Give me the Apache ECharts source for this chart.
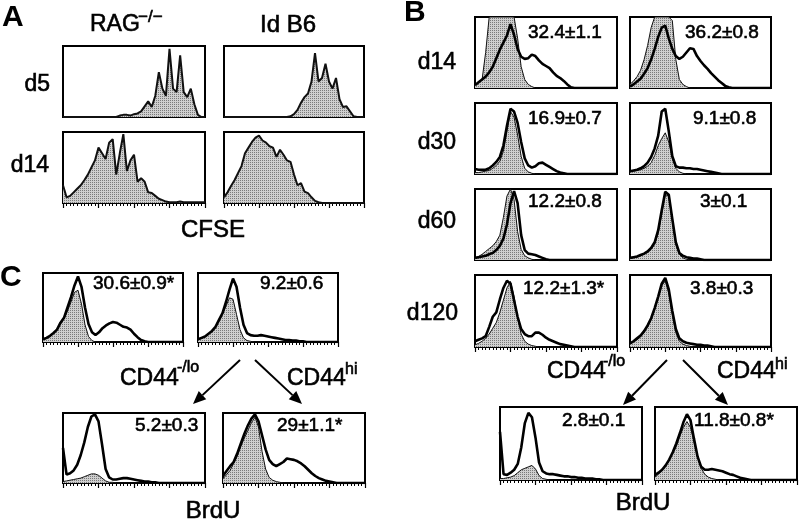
<!DOCTYPE html>
<html>
<head>
<meta charset="utf-8">
<script src="https://cdn.jsdelivr.net/npm/echarts@6/dist/echarts.min.js"></script>
<style>
  html, body { margin: 0; padding: 0; background: #fff; }
  #chart { width: 800px; height: 522px; }
</style>
</head>
<body>
<div id="chart"></div>
<script>
// fluorescence channel (0..40 = 4 log decades)
const channels = [0,1,2,3,4,5,6,7,8,9,10,11,12,13,14,15,16,17,18,19,20,21,22,23,24,25,26,27,28,29,30,31,32,33,34,35,36,37,38,39,40];

// panel A: CFSE histograms
const ragD5 = [0,0,0,0,0,0,0,0,0,0,0,0,0,0,0,0,2,3,3,2,4,5,8,15,22,14,30,63,40,30,96,40,35,87,35,28,40,18,3,0,0];
const ragD14 = [25,8,10,15,20,25,32,40,50,60,78,70,62,85,90,40,70,97,45,60,68,30,35,30,15,14,10,6,4,2,1,1,1,2,1,1,1,1,1,1,1];
const idD5 = [0,0,0,0,0,0,0,0,0,0,0,0,0,0,0,0,0,0,0,1,4,10,20,28,33,50,90,50,55,75,50,40,55,25,14,15,8,1,0,0,0];
const idD14 = [8,15,24,32,42,52,70,78,86,92,95,88,85,80,78,65,75,68,60,58,40,25,28,16,14,8,3,1,0,0,0,0,0,0,0,0,0,0,0,0,0];

// panel B: BrdU, left / right columns (fill = shaded, line = open)
const bL14Fill = [5,8,12,50,100,100,100,100,100,100,100,100,70,30,12,5,2,0,0,0,0,0,0,0,0,0,0,0,0,0,0,0,0,0,0,0,0,0,0,0,0];
const bL14Line = [4,8,12,16,22,30,42,54,64,74,90,75,55,44,41,42,47,45,39,34,31,28,22,17,14,10,5,1,0,0,0,0,0,0,0,0,0,0,0,0,0];
const bR14Fill = [5,10,16,25,40,60,85,100,100,100,100,100,95,40,12,5,2,0,0,0,0,0,0,0,0,0,0,0,0,0,0,0,0,0,0,0,0,0,0,0,0];
const bR14Line = [2,5,9,13,20,28,40,55,72,85,88,70,55,45,41,44,50,56,55,45,38,32,27,21,16,11,7,3,1,0,0,0,0,0,0,0,0,0,0,0,0];
const bL30Fill = [2,2,3,4,5,8,12,18,32,60,88,80,55,25,8,3,1,0,0,0,0,0,0,0,0,0,0,0,0,0,0,0,0,0,0,0,0,0,0,0,0];
const bL30Line = [7,6,6,6,8,12,17,24,40,68,92,88,72,45,22,12,9,11,15,16,13,10,7,4,2,1,0,0,0,0,0,0,0,0,0,0,0,0,0,0,0];
const bR30Fill = [3,4,5,6,8,11,16,26,40,50,58,45,22,8,3,1,0,0,0,0,0,0,0,0,0,0,0,0,0,0,0,0,0,0,0,0,0,0,0,0,0];
const bR30Line = [4,5,6,8,11,16,24,36,54,88,92,60,25,11,9,9,8,8,7,7,6,5,4,3,2,1,0,0,0,0,0,0,0,0,0,0,0,0,0,0,0];
const bL60Fill = [3,5,8,12,16,20,26,35,60,90,100,85,40,15,6,3,1,0,0,0,0,0,0,0,0,0,0,0,0,0,0,0,0,0,0,0,0,0,0,0,0];
const bL60Line = [3,4,5,6,8,10,14,20,30,50,80,97,80,35,14,9,8,7,5,3,1,0,0,0,0,0,0,0,0,0,0,0,0,0,0,0,0,0,0,0,0];
const bR60Fill = [3,3,4,6,8,11,15,22,38,65,92,90,55,22,8,3,1,0,0,0,0,0,0,0,0,0,0,0,0,0,0,0,0,0,0,0,0,0,0,0,0];
const bR60Line = [3,4,5,7,9,12,17,25,42,70,96,92,58,25,10,6,4,3,2,2,1,0,0,0,0,0,0,0,0,0,0,0,0,0,0,0,0,0,0,0,0];
const bL120Fill = [3,5,8,12,18,26,34,48,65,82,91,70,40,18,8,4,2,1,0,0,0,0,0,0,0,0,0,0,0,0,0,0,0,0,0,0,0,0,0,0,0];
const bL120Line = [8,10,12,15,28,42,48,66,82,92,88,65,42,25,18,15,15,20,20,17,13,10,8,6,4,3,2,1,0,0,0,0,0,0,0,0,0,0,0,0,0];
const bR120Fill = [4,7,10,14,20,28,38,52,68,85,92,75,45,20,8,4,2,1,0,0,0,0,0,0,0,0,0,0,0,0,0,0,0,0,0,0,0,0,0,0,0];
const bR120Line = [5,8,12,16,22,30,40,54,70,88,96,80,50,25,12,8,6,5,4,3,3,2,2,1,0,0,0,0,0,0,0,0,0,0,0,0,0,0,0,0,0];
const bLoFill = [2,2,3,4,6,10,14,16,18,20,15,6,2,1,0,0,0,0,0,0,0,0,0,0,0,0,0,0,0,0,0,0,0,0,0,0,0,0,0,0,0];
const bLoLine = [66,8,7,10,14,22,45,78,92,86,58,24,12,9,8,8,7,6,5,5,4,4,3,3,2,2,2,1,1,0,0,0,0,0,0,0,0,0,0,0,0];
const bHiFill = [4,8,14,20,28,36,46,60,72,80,72,52,32,16,8,4,2,1,0,0,0,0,0,0,0,0,0,0,0,0,0,0,0,0,0,0,0,0,0,0,0];
const bHiLine = [7,10,14,20,28,38,50,64,79,90,82,56,32,18,14,14,15,14,13,12,10,8,7,5,3,2,1,0,0,0,0,0,0,0,0,0,0,0,0,0,0];

// panel C: BrdU
const cTlFill = [3,5,8,12,18,26,34,45,58,72,75,55,25,8,2,0,0,0,0,0,0,0,0,0,0,0,0,0,0,0,0,0,0,0,0,0,0,0,0,0,0];
const cTlLine = [4,6,9,13,18,28,35,50,65,82,95,80,50,26,14,10,14,20,24,27,29,28,25,22,21,18,12,7,3,1,0,0,0,0,0,0,0,0,0,0,0];
const cTrFill = [3,5,8,12,16,22,30,40,52,64,62,40,18,6,2,1,0,0,0,0,0,0,0,0,0,0,0,0,0,0,0,0,0,0,0,0,0,0,0,0,0];
const cTrLine = [4,6,8,12,16,22,32,42,58,76,92,80,50,25,13,10,9,9,10,9,8,7,6,5,4,3,3,2,2,1,1,0,0,0,0,0,0,0,0,0,0];
const cLoFill = [2,3,4,5,6,7,9,11,13,13,11,7,3,1,1,0,0,0,0,0,0,0,0,0,0,0,0,0,0,0,0,0,0,0,0,0,0,0,0,0,0];
const cLoLine = [50,12,14,18,26,40,58,80,95,98,88,55,20,8,5,5,6,7,7,6,5,4,3,2,2,1,1,0,0,0,0,0,0,0,0,0,0,0,0,0,0];
const cHiFill = [6,12,18,28,38,52,64,75,86,94,80,45,20,8,4,2,1,0,0,0,0,0,0,0,0,0,0,0,0,0,0,0,0,0,0,0,0,0,0,0,0];
const cHiLine = [10,17,24,30,42,56,70,82,92,98,88,68,48,33,27,24,27,30,35,34,33,31,28,24,19,14,10,7,5,3,2,1,0,0,0,0,0,0,0,0,0];

// percentages shown in the boxes
const bStats = ["32.4±1.1", "36.2±0.8", "16.9±0.7", "9.1±0.8", "12.2±0.8", "3±0.1", "12.2±1.3*", "3.8±0.3", "2.8±0.1", "11.8±0.8*"];
const cStats = ["30.6±0.9*", "9.2±0.6", "5.2±0.3", "29±1.1*"];

// box layout: [left, top, width, height]
const panels = [
  { box: [63, 46, 142, 71], fill: ragD5, ticks: false },
  { box: [224, 46, 140, 71], fill: idD5, ticks: false },
  { box: [63, 132, 142, 71], fill: ragD14, ticks: true },
  { box: [224, 132, 140, 71], fill: idD14, ticks: true },

  { box: [475, 17, 142, 71], fill: bL14Fill, line: bL14Line, ticks: false },
  { box: [630, 17, 141, 71], fill: bR14Fill, line: bR14Line, ticks: false },
  { box: [475, 103, 142, 71], fill: bL30Fill, line: bL30Line, ticks: false },
  { box: [630, 103, 141, 71], fill: bR30Fill, line: bR30Line, ticks: false },
  { box: [475, 189, 142, 71], fill: bL60Fill, line: bL60Line, ticks: false },
  { box: [630, 189, 141, 71], fill: bR60Fill, line: bR60Line, ticks: false },
  { box: [475, 275, 142, 72], fill: bL120Fill, line: bL120Line, ticks: true },
  { box: [630, 275, 141, 72], fill: bR120Fill, line: bR120Line, ticks: true },
  { box: [500, 407, 142, 73], fill: bLoFill, line: bLoLine, ticks: true },
  { box: [655, 407, 142, 73], fill: bHiFill, line: bHiLine, ticks: true },

  { box: [43, 273, 140, 69], fill: cTlFill, line: cTlLine, ticks: true },
  { box: [198, 273, 140, 69], fill: cTrFill, line: cTrLine, ticks: true },
  { box: [63, 413, 142, 70], fill: cLoFill, line: cLoLine, ticks: true },
  { box: [223, 413, 142, 70], fill: cHiFill, line: cHiLine, ticks: true }
];

const FONT = "Liberation Sans, Arial, sans-serif";

// stippled grey like the printed histograms
const dots = document.createElement("canvas");
dots.width = 2; dots.height = 2;
const dctx = dots.getContext("2d");
dctx.fillStyle = "#cfcfcf"; dctx.fillRect(0, 0, 2, 2);
dctx.fillStyle = "#7a7a7a"; dctx.fillRect(0, 0, 1, 1);

const grid = [], xAxis = [], yAxis = [], series = [];

panels.forEach((p, k) => {
  grid.push({
    left: p.box[0], top: p.box[1], width: p.box[2], height: p.box[3],
    show: true, borderColor: "#000", borderWidth: 2, backgroundColor: "transparent"
  });
  xAxis.push({
    gridIndex: k, type: "value", min: 0, max: 40, interval: 10,
    axisLine: { show: false },
    axisLabel: { show: false },
    splitLine: { show: false },
    axisTick: { show: p.ticks, length: 5, lineStyle: { color: "#000", width: 1.2 } },
    minorTick: { show: p.ticks, splitNumber: 10, length: 3, lineStyle: { color: "#000", width: 1 } }
  });
  yAxis.push({ gridIndex: k, type: "value", min: 0, max: 100, show: false });

  series.push({
    type: "line", xAxisIndex: k, yAxisIndex: k,
    data: channels.map((c, i) => [c, p.fill[i]]),
    showSymbol: false, silent: true,
    lineStyle: { color: "#111", width: p.line ? 1 : 2 },
    areaStyle: { color: { image: dots, repeat: "repeat" }, opacity: 1 }
  });
  if (p.line) {
    series.push({
      type: "line", xAxisIndex: k, yAxisIndex: k,
      data: channels.map((c, i) => [c, p.line[i]]),
      showSymbol: false, silent: true,
      lineStyle: { color: "#000", width: 2.6 }
    });
  }
});

function txt(x, y, s, size, align, bold) {
  return {
    type: "text", x: x, y: y, z: 100,
    style: {
      text: s, fill: "#000", font: (bold ? "bold " : "") + size + "px " + FONT,
      stroke: bold ? null : "#000", lineWidth: bold ? 0 : 0.6,
      textAlign: align || "left", textVerticalAlign: "middle"
    }
  };
}

function arrow(x1, y1, x2, y2) {
  const a = Math.atan2(y2 - y1, x2 - x1);
  const L = 13, W = 5.5;
  const bx = x2 - L * Math.cos(a), by = y2 - L * Math.sin(a);
  return [
    { type: "line", z: 100, shape: { x1: x1, y1: y1, x2: bx, y2: by }, style: { stroke: "#000", lineWidth: 2 } },
    { type: "polygon", z: 100, shape: { points: [[x2, y2], [bx + W * Math.sin(a), by - W * Math.cos(a)], [bx - W * Math.sin(a), by + W * Math.cos(a)]] }, style: { fill: "#000" } }
  ];
}

const graphic = [
  txt(2, 18, "A", 30, "left", true),
  txt(90, 25, "RAG", 23),
  txt(138, 17, "−/−", 17),
  txt(288, 25, "Id B6", 24, "center"),
  txt(50, 85, "d5", 23, "right"),
  txt(49, 166, "d14", 23, "right"),
  txt(213, 230, "CFSE", 24, "center"),

  txt(404, 13, "B", 30, "left", true),
  txt(456, 63, "d14", 23, "right"),
  txt(456, 143, "d30", 23, "right"),
  txt(456, 222, "d60", 23, "right"),
  txt(458, 314, "d120", 23, "right"),
  txt(528, 33, bStats[0], 19),
  txt(685, 33, bStats[1], 19),
  txt(528, 119, bStats[2], 19),
  txt(693, 119, bStats[3], 19),
  txt(528, 202, bStats[4], 19),
  txt(700, 202, bStats[5], 19),
  txt(523, 289, bStats[6], 19),
  txt(690, 289, bStats[7], 19),
  txt(562, 421, bStats[8], 19),
  txt(694, 421, bStats[9], 19),
  txt(547, 372, "CD44", 23),
  txt(603, 362, "-/lo", 16),
  txt(717, 372, "CD44", 23),
  txt(775, 365, "hi", 16),
  txt(643, 503, "BrdU", 24, "center"),

  txt(0, 278, "C", 30, "left", true),
  txt(93, 284, cStats[0], 19),
  txt(260, 284, cStats[1], 19),
  txt(135, 426, cStats[2], 19),
  txt(277, 426, cStats[3], 19),
  txt(120, 379, "CD44", 23),
  txt(177, 368, "-/lo", 16),
  txt(287, 379, "CD44", 23),
  txt(345, 370, "hi", 16),
  txt(213, 511, "BrdU", 24, "center")
].concat(
  arrow(240, 360, 193, 404),
  arrow(255, 360, 302, 404),
  arrow(667, 360, 623, 405),
  arrow(683, 360, 728, 405)
);

const chart = echarts.init(document.getElementById("chart"));
chart.setOption({
  animation: false,
  backgroundColor: "#fff",
  grid: grid,
  xAxis: xAxis,
  yAxis: yAxis,
  series: series,
  graphic: graphic
});
</script>
</body>
</html>
